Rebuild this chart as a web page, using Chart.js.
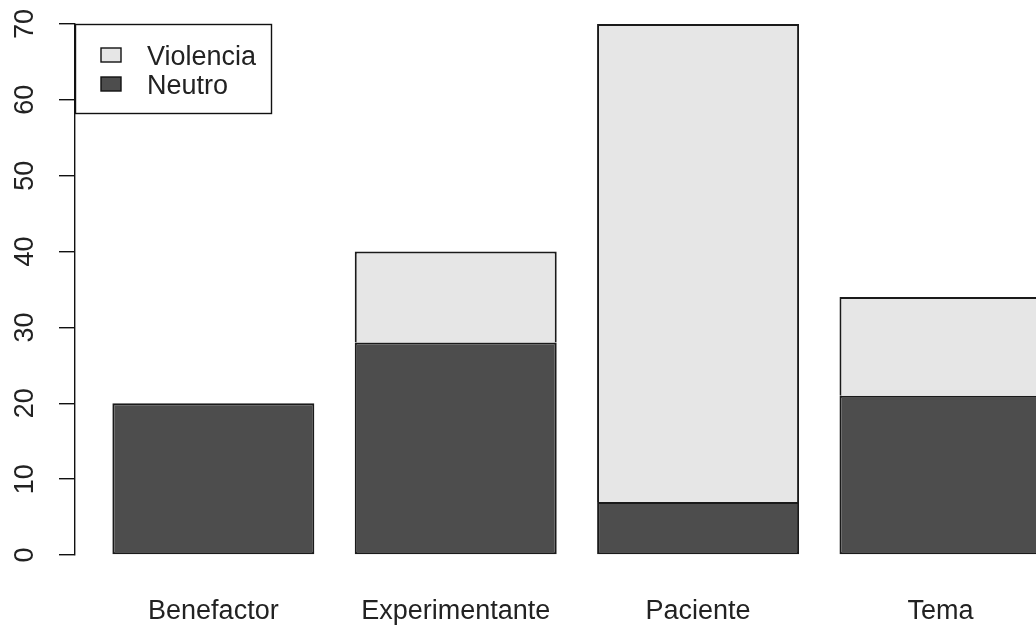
<!DOCTYPE html>
<html>
<head>
<meta charset="utf-8">
<script src="https://cdn.jsdelivr.net/npm/chart.js@4"></script>
<style>
  html, body { margin: 0; padding: 0; background: #fff; overflow: hidden; }
  #wrap { width: 1036px; height: 626px; position: relative; }
</style>
</head>
<body>
<div id="wrap"><canvas id="grafico"></canvas></div>
<script>
var categorias = ['Benefactor', 'Experimentante', 'Paciente', 'Tema'];
var neutro = [20, 28, 7, 21];
var violencia = [0, 12, 63, 13];
var ticksY = [0, 10, 20, 30, 40, 50, 60, 70];

var fuente = '"Liberation Sans", Arial, sans-serif';
var espacio = 0.2; // como barplot() de R: space = 0.2, width = 1
var centros = categorias.map(function (c, i) { return espacio + 0.5 + i * (1 + espacio); });

function puntos(valores) {
    return valores.map(function (v, i) { return { x: centros[i], y: v }; });
}

// leyenda con caja, arriba a la izquierda como en R
var leyendaR = {
    id: 'leyendaR',
    afterDraw: function (chart) {
        var ctx = chart.ctx;
        var area = chart.chartArea;
        var items = chart.data.datasets.slice().reverse();
        var x0 = area.left, y0 = area.top;
        ctx.save();
        ctx.fillStyle = '#fff';
        ctx.fillRect(x0, y0, 196, 89);
        ctx.strokeStyle = '#111';
        ctx.lineWidth = 1.4;
        ctx.strokeRect(x0 + 0.5, y0 + 0.5, 196, 89);
        ctx.font = '27px ' + fuente;
        ctx.textBaseline = 'middle';
        items.forEach(function (ds, i) {
            var cy = y0 + 31 + i * 29;
            ctx.fillStyle = ds.backgroundColor;
            ctx.fillRect(x0 + 26, cy - 7, 20, 14);
            ctx.strokeRect(x0 + 26, cy - 7, 20, 14);
            ctx.fillStyle = '#222';
            ctx.fillText(ds.label, x0 + 72, cy + 3);
        });
        ctx.restore();
    }
};

var ctx = document.getElementById('grafico').getContext('2d');
var grafico = new Chart(ctx, {
    type: 'bar',
    data: {
        datasets: [
            {
                label: 'Neutro',
                data: puntos(neutro),
                backgroundColor: '#4d4d4d',
                borderColor: '#1a1a1a',
                borderWidth: 2,
                borderSkipped: false
            },
            {
                label: 'Violencia',
                data: puntos(violencia),
                backgroundColor: '#e6e6e6',
                borderColor: '#1a1a1a',
                borderWidth: 2,
                borderSkipped: 'bottom'
            }
        ]
    },
    options: {
        responsive: true,
        maintainAspectRatio: false,
        animation: false,
        categoryPercentage: 1,
        barPercentage: 1 / (1 + espacio),
        layout: { padding: { top: 24, left: 0, right: 0, bottom: 0 } },
        plugins: {
            legend: { display: false },
            tooltip: { enabled: false }
        },
        scales: {
            x: {
                type: 'linear',
                stacked: true,
                offset: false,
                min: 0.015,
                max: 4.773,
                grid: { display: false },
                border: { display: false },
                afterBuildTicks: function (scale) {
                    scale.ticks = centros.map(function (v) { return { value: v }; });
                },
                afterFit: function (scale) { scale.height = 71; },
                ticks: {
                    autoSkip: false,
                    maxRotation: 0,
                    padding: 32,
                    color: '#222',
                    font: { family: fuente, size: 27 },
                    callback: function (value, index) { return categorias[index]; }
                }
            },
            y: {
                stacked: true,
                min: 0,
                max: 70,
                afterBuildTicks: function (scale) {
                    scale.ticks = ticksY.map(function (v) { return { value: v }; });
                },
                afterFit: function (scale) {
                    scale.width = 75;
                    scale.paddingTop = 0;
                    scale.paddingBottom = 0;
                },
                grid: { drawOnChartArea: false, color: '#111', tickLength: 16, lineWidth: 1.4 },
                border: { display: true, color: '#111', width: 1.4 },
                ticks: {
                    minRotation: 90,
                    maxRotation: 90,
                    crossAlign: 'center',
                    padding: 18,
                    color: '#222',
                    font: { family: fuente, size: 27 }
                }
            }
        }
    },
    plugins: [leyendaR]
});
</script>
</body>
</html>
